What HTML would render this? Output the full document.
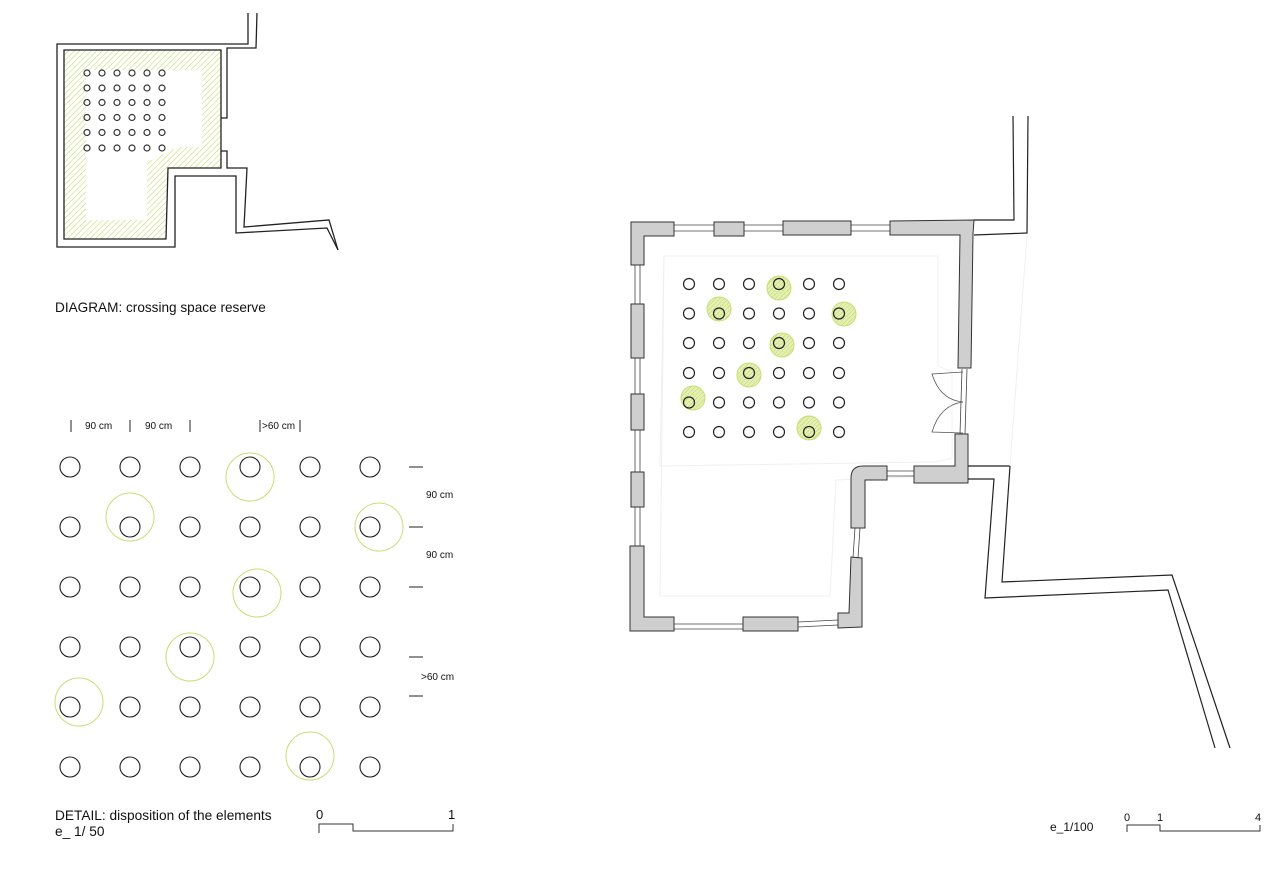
<!DOCTYPE html>
<html><head><meta charset="utf-8"><style>
html,body{margin:0;padding:0;background:#fff;}
svg{display:block;font-family:"Liberation Sans",sans-serif;}
</style></head><body>
<svg width="1280" height="874" viewBox="0 0 1280 874" xmlns="http://www.w3.org/2000/svg">
<defs>
<pattern id="h" width="4" height="4" patternUnits="userSpaceOnUse" patternTransform="rotate(45)">
<line x1="0" y1="0" x2="0" y2="4" stroke="#c5dc6a" stroke-width="1.2"/>
</pattern>
<pattern id="h2" width="3" height="3" patternUnits="userSpaceOnUse" patternTransform="rotate(45)">
<rect width="3" height="3" fill="#e4f0b4"/>
<line x1="0" y1="0" x2="0" y2="3" stroke="#bdd66a" stroke-width="1"/>
</pattern>
</defs>

<!-- TOP-LEFT DIAGRAM -->
<path d="M64,50 L221,50 L221,168 L168,168 L166,239 L64,239 Z M86,70 L202,70 L202,147 L178,147 L147,162 L147,220 L86,220 Z" fill="url(#h)" fill-rule="evenodd"/>
<path d="M64,50 L221,50 L221,168 L168,168 L166,239 L64,239 Z" fill="none" stroke="#222" stroke-width="1.3"/>
<polyline points="248,13 248,44 57,44 57,247 175,247 175,176 236,176 236,233 327,228 338,250" fill="none" stroke="#222" stroke-width="1.3"/>
<polyline points="257,13 256,48 227,48 227,118 221,118" fill="none" stroke="#222" stroke-width="1.3"/>
<polyline points="221,151 227,151 227,168 247,168 244,227 329,220 338,250" fill="none" stroke="#222" stroke-width="1.3"/>
<g fill="none" stroke="#333" stroke-width="1.2">
<g id="sg">
<circle cx="87" cy="73" r="3"/><circle cx="102" cy="73" r="3"/><circle cx="117" cy="73" r="3"/><circle cx="132" cy="73" r="3"/><circle cx="147" cy="73" r="3"/><circle cx="162" cy="73" r="3"/>
</g>
<use href="#sg" y="15"/><use href="#sg" y="29.5"/><use href="#sg" y="44.5"/><use href="#sg" y="59.5"/><use href="#sg" y="75"/>
</g>
<text x="55" y="312" font-size="13.6" fill="#111">DIAGRAM: crossing space reserve</text>

<!-- DETAIL -->
<g stroke="#222" stroke-width="1">
<line x1="71" y1="420" x2="71" y2="432"/><line x1="130" y1="420" x2="130" y2="432"/><line x1="190" y1="420" x2="190" y2="432"/>
<line x1="260" y1="420" x2="260" y2="432"/><line x1="300" y1="420" x2="300" y2="432"/>
<line x1="409" y1="467" x2="423" y2="467"/><line x1="409" y1="527" x2="423" y2="527"/><line x1="409" y1="587" x2="423" y2="587"/>
<line x1="409" y1="657" x2="423" y2="657"/><line x1="409" y1="696" x2="423" y2="696"/>
</g>
<g font-size="10" fill="#111">
<text x="85" y="429">90 cm</text><text x="145" y="429">90 cm</text><text x="262" y="429">&gt;60 cm</text>
<text x="426" y="498">90 cm</text><text x="426" y="558">90 cm</text><text x="421" y="680">&gt;60 cm</text>
</g>
<g fill="none" stroke="#222" stroke-width="1.1">
<g id="dr">
<circle cx="70" cy="467" r="10"/><circle cx="130" cy="467" r="10"/><circle cx="190" cy="467" r="10"/><circle cx="250" cy="467" r="10"/><circle cx="310" cy="467" r="10"/><circle cx="370" cy="467" r="10"/>
</g>
<use href="#dr" y="60"/><use href="#dr" y="120"/><use href="#dr" y="180"/><use href="#dr" y="240"/><use href="#dr" y="300"/>
</g>
<g fill="none" stroke="#c8de74" stroke-width="1">
<circle cx="250" cy="477" r="24"/><circle cx="130" cy="517" r="24"/><circle cx="379" cy="527" r="24"/>
<circle cx="257" cy="593" r="24"/><circle cx="190" cy="657" r="24"/><circle cx="79" cy="702" r="24"/><circle cx="310" cy="756" r="24"/>
</g>
<text x="55" y="820" font-size="13.7" fill="#111">DETAIL: disposition of the elements</text>
<text x="55" y="836" font-size="13.7" fill="#111">e_ 1/ 50</text>
<text x="316" y="819" font-size="13" fill="#111">0</text><text x="448" y="819" font-size="13" fill="#111">1</text>
<polyline points="319,833 319,824 353,824 353,831 453,831 453,824" fill="none" stroke="#333" stroke-width="1"/>

<!-- BUILDING PLAN -->
<path d="M664,256 L938,256 L938,366 L952,372 L952,458 L936,462 L660,466 Z" fill="none" stroke="#f0f0f0" stroke-width="1"/>
<path d="M664,256 L660,596 L830,596 L836,480 L930,476" fill="none" stroke="#f0f0f0" stroke-width="1"/>
<g stroke="#444" stroke-width="0.8">
<line x1="674" y1="225" x2="714" y2="225"/><line x1="674" y1="231" x2="714" y2="231"/>
<line x1="744" y1="225" x2="783" y2="225"/><line x1="744" y1="231" x2="783" y2="231"/>
<line x1="851" y1="225" x2="890" y2="225"/><line x1="851" y1="231" x2="890" y2="231"/>
<line x1="635" y1="265" x2="635" y2="610"/><line x1="640" y1="265" x2="640" y2="610"/>
<line x1="674" y1="624" x2="743" y2="624"/><line x1="674" y1="629" x2="743" y2="629"/>
<line x1="798" y1="622" x2="838" y2="620"/><line x1="798" y1="627" x2="838" y2="625"/>
<line x1="855" y1="528" x2="853" y2="558"/><line x1="860" y1="528" x2="858" y2="558"/>
<line x1="962" y1="369" x2="960" y2="434"/><line x1="967" y1="369" x2="965" y2="434"/>
<line x1="887" y1="471" x2="914" y2="471"/><line x1="887" y1="476" x2="914" y2="476"/>
</g>
<g fill="#cfcfcf" stroke="#333" stroke-width="1">
<path d="M631,222 L674,222 L674,236 L644,236 L644,265 L631,265 Z"/>
<rect x="714" y="222" width="30" height="14"/>
<rect x="783" y="221" width="68" height="14"/>
<path d="M890,221 L974,220 L973,234 L973,234 L971,368 L958,368 L960,235 L890,235 Z"/>
<rect x="631" y="304" width="13" height="54"/>
<rect x="631" y="394" width="13" height="36"/>
<rect x="631" y="472" width="13" height="35"/>
<path d="M630,546 L644,546 L644,617 L674,617 L674,631 L630,631 Z"/>
<rect x="743" y="617" width="55" height="14"/>
<path d="M851,557 L862,558 L862,627 L838,628 L838,613 L849,613 Z"/>
<path d="M955,434 L968,434 L968,483 L914,483 L914,466 L955,466 Z"/>
<path d="M863,466 L887,466 L887,480 L865,480 L865,528 L851,528 L851,478 Q851,466 863,466 Z"/>
</g>
<g fill="none" stroke="#555" stroke-width="0.8">
<path d="M963,402 Q940,400 932,374 L963,372"/>
<path d="M963,402 Q940,405 932,432 L963,433"/>
</g>
<g fill="none" stroke="#222" stroke-width="1.2">
<polyline points="1013,116 1014,220 974,220"/>
<polyline points="1028,116 1027,233 974,235"/>
<polyline points="968,466 1010,466 1002,582 1172,575 1230,748"/>
<polyline points="968,479 994,479 985,598 1168,590 1215,748"/>
</g>
<line x1="1027" y1="235" x2="1010" y2="466" stroke="#f0f0f0" stroke-width="1"/>
<g fill="url(#h2)" stroke="#c8de74" stroke-width="1">
<circle cx="779" cy="288" r="12"/><circle cx="719" cy="309" r="12"/><circle cx="844" cy="314" r="12"/>
<circle cx="782" cy="345" r="12"/><circle cx="749" cy="375" r="12"/><circle cx="693" cy="398" r="12"/><circle cx="809" cy="428" r="12"/>
</g>
<g fill="none" stroke="#222" stroke-width="1.2">
<g id="br">
<circle cx="689" cy="284" r="5.5"/><circle cx="719" cy="284" r="5.5"/><circle cx="749" cy="284" r="5.5"/><circle cx="779" cy="284" r="5.5"/><circle cx="809" cy="284" r="5.5"/><circle cx="839" cy="284" r="5.5"/>
</g>
<use href="#br" y="29.5"/><use href="#br" y="59"/><use href="#br" y="89"/><use href="#br" y="118.5"/><use href="#br" y="148"/>
</g>
<text x="1050" y="831" font-size="12" fill="#111">e_1/100</text>
<text x="1124" y="821" font-size="11" fill="#111">0</text><text x="1157" y="821" font-size="11" fill="#111">1</text><text x="1255" y="821" font-size="11" fill="#111">4</text>
<polyline points="1127,832 1127,825 1160,825 1160,831 1260,831 1260,825" fill="none" stroke="#333" stroke-width="1"/>
</svg>
</body></html>
